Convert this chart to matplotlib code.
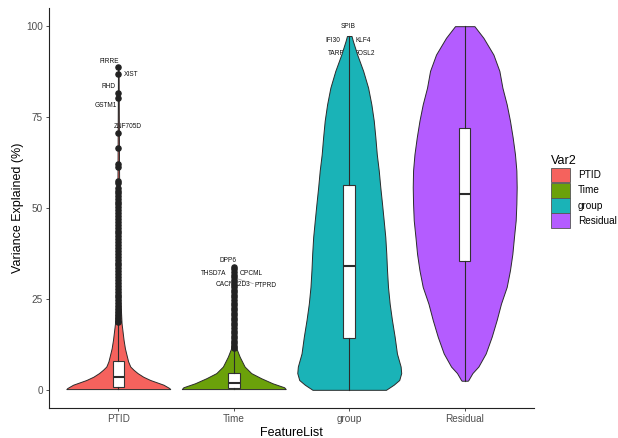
import matplotlib
matplotlib.use("Agg")
import matplotlib.pyplot as plt
from matplotlib.patches import Patch

plt.rcParams['font.family'] = ['Liberation Sans', 'DejaVu Sans']

# ---------------- data ----------------
categories = ["PTID", "Time", "group", "Residual"]
colors = ["#F5625D", "#6BA10A", "#1AB3B7", "#B45CFF"]

# violin outlines: value levels and relative half-width (1 = widest)
ptid_vy = [0.2, 0.5, 1.4, 2.7, 3.6, 4.6, 5.5, 6.4, 7.8, 9.1, 11.4, 13.7, 18.3, 25, 40, 60, 89]
ptid_vw = [1.0, 0.98, 0.87, 0.615, 0.48, 0.371, 0.295, 0.231, 0.19, 0.167, 0.128, 0.102, 0.063, 0.04, 0.023, 0.015, 0.006]
time_vy = [0.2, 0.7, 1.8, 3.2, 4.6, 6.4, 9.1, 11.4, 15, 25, 34]
time_vw = [1.0, 0.97, 0.746, 0.526, 0.336, 0.209, 0.114, 0.051, 0.03, 0.018, 0.006]
group_vy = [0.0, 1.4, 2.7, 4.6, 6.4, 10.0, 14.6, 19.2, 23.7, 28.3, 32.9, 37.4, 42.0, 46.6,
            51.2, 55.7, 60.3, 64.8, 69.4, 74.0, 78.5, 83.1, 87.7, 92.2, 95.9, 97.3]
group_vw = [0.707, 0.855, 0.962, 1.0, 0.989, 0.918, 0.874, 0.822, 0.778, 0.746, 0.727, 0.713, 0.694, 0.663,
            0.631, 0.598, 0.568, 0.530, 0.503, 0.472, 0.426, 0.363, 0.268, 0.153, 0.071, 0.044]
resid_vy = [2.5, 2.7, 4.6, 6.4, 10.0, 14.6, 19.2, 23.7, 28.3, 32.9, 37.4, 42.0, 46.6, 51.2,
            55.7, 60.3, 64.8, 69.4, 74.0, 78.5, 83.1, 87.7, 92.2, 96.8, 100.0]
resid_vw = [0.058, 0.071, 0.148, 0.263, 0.404, 0.519, 0.615, 0.698, 0.808, 0.871, 0.917, 0.948, 0.981, 0.994,
            1.0, 0.994, 0.967, 0.923, 0.871, 0.808, 0.725, 0.667, 0.552, 0.36, 0.187]

# boxplot statistics
box_q1 = [0.7, 0.6, 14.3, 35.4]
box_med = [3.5, 1.8, 34.1, 53.9]
box_q3 = [8.0, 4.7, 56.4, 72.1]
box_lo = [0.2, 0.2, 0.0, 2.5]
box_hi = [18.3, 11.3, 97.3, 100.0]

ptid_out = [88.8, 86.8, 81.6, 80.2, 70.6, 66.5, 62.1, 61.4, 57.5, 57.0,
            55.6, 54.8, 54.0, 53.2, 52.5, 51.7, 51.0, 50.2, 49.5, 48.7, 47.9, 47.0, 46.2, 45.4,
            44.6, 43.8, 43.0, 42.2, 41.4, 40.6, 39.8, 39.0, 38.2, 37.4, 36.6, 35.8, 35.0, 34.2,
            33.4, 32.6, 31.8, 31.0, 30.2, 29.4, 28.6, 27.8, 27.0, 26.2, 25.4, 24.6, 23.8, 23.0,
            22.2, 21.4, 20.6, 19.8, 19.0, 18.6]
time_out = [33.8, 33.1, 32.4, 31.7, 31.0, 30.3, 29.6, 28.9, 28.2, 27.5, 26.8, 26.1, 25.4,
            24.7, 24.0, 23.3, 22.6, 21.9, 21.2, 20.5, 19.8, 19.1, 18.4, 17.7, 17.0, 16.3,
            15.6, 14.9, 14.2, 13.5, 12.8, 12.1, 11.6]
group_out = []
resid_out = []

# gene labels: (category index, name)
label_cat = [0, 0, 0, 0, 0, 1, 1, 1, 1, 1, 2, 2, 2, 2, 2]
label_name = ["FIRRE", "XIST", "RHD", "GSTM1", "ZNF705D",
              "DPP6", "THSD7A", "OPCML", "CACNA2D3", "PTPRD",
              "SPIB", "IFI30", "KLF4", "TARP", "FOSL2"]
label_val = [88.8, 86.8, 81.6, 80.2, 70.6,
             33.8, 33.1, 32.4, 31.0, 30.3,
             97.3, 97.0, 97.0, 96.5, 96.5]

# ---------------- layout ----------------
# text offsets (x from category centre, y absolute)
label_dx = [-0.078, 0.107, -0.087, -0.104, 0.078,
            -0.048, -0.177, 0.155, -0.004, 0.276,
            -0.009, -0.139, 0.121, -0.109, 0.136]
label_ty = [90.4, 86.7, 83.4, 78.1, 72.3,
            35.6, 32.1, 32.1, 29.0, 28.8,
            99.8, 96.1, 96.1, 92.5, 92.5]

fig = plt.figure(figsize=(6.18, 4.38), dpi=100)
ax = fig.add_axes([49 / 618, 30 / 438, 485 / 618, 400 / 438])

vshapes = [(ptid_vy, ptid_vw), (time_vy, time_vw), (group_vy, group_vw), (resid_vy, resid_vw)]
outs = [ptid_out, time_out, group_out, resid_out]
half_max = 0.45
edge = "#2b2b2b"

for i, (vy, vw) in enumerate(vshapes):
    pos = i + 1
    left = [pos - half_max * w for w in vw]
    right = [pos + half_max * w for w in vw]
    ax.fill_betweenx(vy, left, right, facecolor=colors[i], edgecolor=edge,
                     linewidth=0.7, zorder=1)

stats = []
for i in range(4):
    stats.append(dict(med=box_med[i], q1=box_q1[i], q3=box_q3[i],
                      whislo=box_lo[i], whishi=box_hi[i], fliers=outs[i]))
ax.bxp(stats, positions=[1, 2, 3, 4], widths=0.1, patch_artist=True,
       showcaps=False, zorder=2,
       boxprops=dict(facecolor="white", edgecolor="#333333", linewidth=0.8),
       whiskerprops=dict(color="#2b2b2b", linewidth=0.8),
       medianprops=dict(color="#2b2b2b", linewidth=1.5),
       flierprops=dict(marker="o", markerfacecolor="#222222", markeredgecolor="#222222",
                       markersize=3.7, linestyle="none"))

for c, name, val, dx, ty in zip(label_cat, label_name, label_val, label_dx, label_ty):
    ax.text(c + 1 + dx, ty, name, fontsize=4.7, ha="center", va="center",
            color="#111111", zorder=0.5)

# ggrepel segment for PTPRD
ax.plot([2.025, 2.17], [30.6, 29.2], color="#888888", linewidth=0.4, zorder=0.6)

ax.set_xlim(0.4, 4.6)
ax.set_ylim(-5, 105)
ax.set_xticks([1, 2, 3, 4])
ax.set_xticklabels(categories)
ax.set_yticks([0, 25, 50, 75, 100])
ax.set_yticklabels(["0", "25", "50", "75", "100"])
ax.tick_params(axis="both", labelsize=7.2, labelcolor="#4D4D4D", color="#333333",
               length=2.3, width=0.6, pad=2.2)
for s in ["top", "right"]:
    ax.spines[s].set_visible(False)
for s in ["left", "bottom"]:
    ax.spines[s].set_color("#222222")
    ax.spines[s].set_linewidth(0.8)
ax.set_xlabel("FeatureList", fontsize=9, color="black", labelpad=2)
ax.set_ylabel("Variance Explained (%)", fontsize=9, color="black", labelpad=1)

handles = [Patch(facecolor=colors[i], edgecolor="#555555", linewidth=0.6, label=categories[i])
           for i in range(4)]
leg = fig.legend(handles=handles, title="Var2", loc="upper left",
                 bbox_to_anchor=(551 / 618, 1 - 155 / 438), frameon=False,
                 fontsize=7.2, title_fontsize=9, handlelength=1.9, handleheight=1.9,
                 labelspacing=0.05, handletextpad=0.8, borderpad=0, borderaxespad=0)
leg._legend_box.align = "left"

fig.savefig("out.png", dpi=100)
